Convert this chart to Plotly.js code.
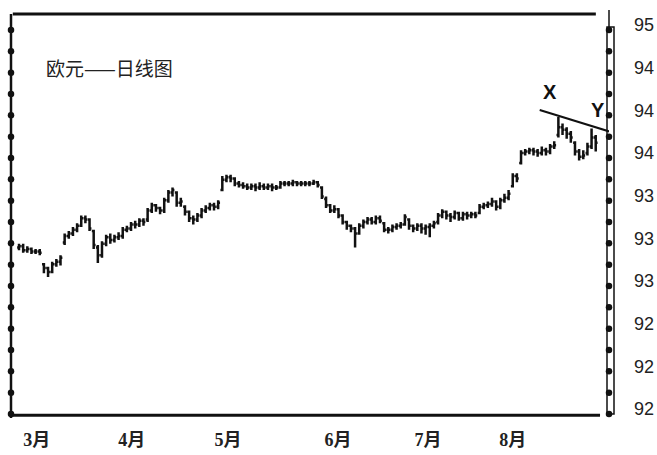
<!DOCTYPE html>
<html>
<head>
<meta charset="utf-8">
<script src="https://cdn.plot.ly/plotly-3.0.1.min.js"></script>
<style>html,body{margin:0;padding:0;background:#fff;}#chart{width:657px;height:455px;}</style>
</head>
<body>
<div id="chart"></div>
<script>
// ---- data (daily bars, index = trading day) ----
const open = [93.30,93.31,93.28,93.29,93.27,93.27,93.17,93.14,93.11,93.17,
93.19,93.34,93.39,93.41,93.44,93.47,93.53,93.52,93.43,93.30,
93.24,93.33,93.38,93.36,93.38,93.39,93.44,93.45,93.48,93.48,
93.51,93.52,93.59,93.63,93.61,93.59,93.67,93.73,93.73,93.65,
93.62,93.58,93.53,93.52,93.55,93.59,93.61,93.63,93.62,93.75,
93.83,93.85,93.84,93.80,93.79,93.78,93.77,93.78,93.77,93.78,
93.77,93.78,93.77,93.77,93.80,93.80,93.80,93.81,93.80,93.80,
93.80,93.80,93.81,93.77,93.68,93.63,93.59,93.60,93.55,93.50,
93.47,93.45,93.41,93.47,93.50,93.52,93.50,93.53,93.49,93.44,
93.44,93.46,93.47,93.48,93.52,93.47,93.45,93.47,93.45,93.46,
93.47,93.50,93.55,93.58,93.55,93.54,93.57,93.53,93.56,93.55,
93.56,93.57,93.62,93.63,93.64,93.66,93.62,93.67,93.69,93.78,
93.86,93.96,94.04,94.05,94.06,94.05,94.04,94.06,94.05,94.09,
94.18,94.24,94.22,94.19,94.12,94.05,94.01,94.04,94.09,94.16];
const high = [93.33,93.33,93.31,93.30,93.29,93.29,93.18,93.15,93.19,93.21,
93.24,93.41,93.43,93.46,93.49,93.55,93.55,93.53,93.44,93.32,
93.35,93.40,93.41,93.40,93.42,93.46,93.47,93.50,93.51,93.53,
93.53,93.61,93.65,93.64,93.62,93.69,93.75,93.77,93.74,93.69,
93.63,93.59,93.55,93.57,93.61,93.63,93.65,93.65,93.67,93.86,
93.87,93.87,93.85,93.82,93.81,93.80,93.80,93.80,93.81,93.80,
93.80,93.80,93.79,93.82,93.82,93.82,93.83,93.82,93.82,93.82,
93.82,93.83,93.82,93.78,93.70,93.64,93.63,93.61,93.56,93.51,
93.48,93.46,93.49,93.52,93.54,93.54,93.55,93.55,93.50,93.46,
93.48,93.49,93.50,93.56,93.53,93.48,93.49,93.49,93.48,93.49,
93.51,93.57,93.60,93.59,93.57,93.59,93.58,93.58,93.58,93.58,
93.58,93.64,93.65,93.66,93.69,93.67,93.69,93.72,93.75,93.88,
93.88,94.06,94.07,94.08,94.08,94.07,94.09,94.08,94.11,94.13,
94.32,94.27,94.24,94.21,94.13,94.07,94.06,94.12,94.23,94.18];
const low = [93.28,93.26,93.26,93.25,93.25,93.24,93.10,93.07,93.10,93.15,
93.16,93.32,93.37,93.39,93.42,93.46,93.49,93.43,93.29,93.18,
93.22,93.31,93.33,93.34,93.36,93.37,93.42,93.43,93.45,93.46,
93.47,93.50,93.57,93.58,93.56,93.57,93.65,93.70,93.62,93.62,
93.55,93.50,93.48,93.50,93.53,93.57,93.59,93.59,93.60,93.74,
93.81,93.81,93.78,93.77,93.76,93.75,93.75,93.74,93.75,93.75,
93.75,93.74,93.75,93.76,93.78,93.78,93.78,93.78,93.78,93.78,
93.78,93.79,93.77,93.68,93.61,93.57,93.57,93.53,93.48,93.44,
93.42,93.30,93.40,93.45,93.48,93.48,93.48,93.49,93.42,93.41,
93.42,93.44,93.45,93.47,93.44,93.42,93.43,93.41,93.40,93.38,
93.45,93.48,93.53,93.52,93.50,93.52,93.51,93.51,93.52,93.53,
93.53,93.56,93.60,93.61,93.62,93.59,93.60,93.65,93.67,93.77,
93.81,93.95,94.02,94.03,94.02,94.01,94.02,94.02,94.03,94.07,
94.16,94.18,94.15,94.12,94.02,93.98,93.99,94.02,94.07,94.05];
const close = [93.31,93.28,93.29,93.27,93.27,93.26,93.14,93.11,93.17,93.19,
93.22,93.39,93.41,93.44,93.47,93.53,93.52,93.45,93.32,93.24,
93.33,93.38,93.36,93.38,93.39,93.44,93.45,93.48,93.48,93.51,
93.50,93.59,93.63,93.61,93.59,93.67,93.73,93.75,93.65,93.66,
93.58,93.53,93.52,93.55,93.59,93.61,93.63,93.62,93.65,93.83,
93.85,93.84,93.80,93.79,93.78,93.77,93.78,93.77,93.78,93.77,
93.78,93.77,93.77,93.80,93.80,93.80,93.81,93.80,93.80,93.80,
93.80,93.81,93.79,93.70,93.63,93.59,93.60,93.55,93.50,93.47,
93.45,93.41,93.47,93.50,93.52,93.50,93.53,93.51,93.44,93.44,
93.46,93.47,93.48,93.54,93.47,93.45,93.47,93.45,93.46,93.47,
93.49,93.55,93.58,93.55,93.54,93.57,93.53,93.56,93.55,93.56,
93.55,93.62,93.63,93.64,93.66,93.62,93.67,93.69,93.72,93.86,
93.84,94.04,94.05,94.06,94.05,94.04,94.06,94.05,94.09,94.10,
94.24,94.22,94.19,94.16,94.05,94.01,94.02,94.09,94.16,94.12];

const months = ['3月','4月','5月','6月','7月','8月'];
const monthIdx = [4.3, 27.2, 50.4, 76.9, 98.6, 119];
const yTickVals = [92, 92.3333, 92.6667, 93, 93.3333, 93.6667, 94, 94.3333, 94.6667, 95];
const yTickText = ['92','92','92','93','93','93','94','94','94','95'];
const pointLabels = ['X','Y'];
const pointIdx = [130, 138];
const trendIdx = [125.5, 143];
const trendPrice = [94.375, 94.20];
const titleText = '欧元——日线图';

// ---- build ----
const idx = close.map((_, i) => i);
const INK = '#111';

const bars = {
  type: 'ohlc', x: idx, open: open, high: high, low: low, close: close,
  increasing: {line: {color: INK, width: 2.5}},
  decreasing: {line: {color: INK, width: 2.5}},
  tickwidth: 0.45, hoverinfo: 'skip', showlegend: false
};

// axis dots: one at each label tick and midway between
const dotY = [];
for (let k = 0; k < yTickVals.length; k++) {
  dotY.push(yTickVals[k]);
  if (k < yTickVals.length - 1) dotY.push((yTickVals[k] + yTickVals[k+1]) / 2);
}
const dots = {
  type: 'scatter', mode: 'markers', xaxis: 'x2', yaxis: 'y',
  x: dotY.map(() => 0).concat(dotY.map(() => 1)),
  y: dotY.concat(dotY),
  marker: {color: INK, size: 6.5, symbol: 'circle'},
  cliponaxis: false, hoverinfo: 'skip', showlegend: false
};

const trend = {
  type: 'scatter', mode: 'lines', x: trendIdx, y: trendPrice,
  line: {color: INK, width: 2}, hoverinfo: 'skip', showlegend: false
};

const annotations = [{
  xref: 'paper', yref: 'paper', x: 0.055, y: 0.867, xanchor: 'left', yanchor: 'middle',
  text: titleText, showarrow: false,
  font: {family: 'Noto Sans CJK SC, sans-serif', size: 19, color: '#222'}
}];
pointLabels.forEach((t, j) => {
  const i = pointIdx[j];
  annotations.push({
    x: i, y: high[i], xref: 'x', yref: 'y', text: '<b>' + t + '</b>', showarrow: false,
    xshift: j === 0 ? -8 : 6, yshift: j === 0 ? 25 : 19,
    font: {family: 'Liberation Sans, Arial, sans-serif', size: 20, color: INK}
  });
});

const layout = {
  width: 657, height: 455,
  margin: {l: 11, r: 48, t: 14, b: 41, pad: 0},
  paper_bgcolor: '#fff', plot_bgcolor: '#fff',
  showlegend: false,
  xaxis: {
    range: [-1.93, 142.2], tickmode: 'array', tickvals: monthIdx, ticktext: months,
    showgrid: false, zeroline: false, showline: false, ticks: '',
    ticklabelstandoff: 13, rangeslider: {visible: false},
    tickfont: {family: 'Liberation Serif, Noto Sans CJK SC, serif', size: 18, color: '#222', weight: 'bold'}
  },
  xaxis2: {overlaying: 'x', range: [0, 1], visible: false},
  yaxis: {
    range: [92, 95.125], side: 'right', tickmode: 'array', tickvals: yTickVals, ticktext: yTickText,
    showgrid: false, zeroline: false, showline: false, ticks: '',
    ticklabelstandoff: 24, ticklabelshift: -5,
    tickfont: {family: 'Liberation Sans, Arial, sans-serif', size: 18, color: '#222'}
  },
  shapes: [
    {type: 'line', xref: 'paper', yref: 'paper', x0: 0, x1: 0, y0: -0.01, y1: 1.0, line: {color: INK, width: 2.5}},
    {type: 'line', xref: 'paper', yref: 'paper', x0: 0.003, x1: 0.978, y0: 1, y1: 1, line: {color: INK, width: 3}},
    {type: 'line', xref: 'paper', yref: 'paper', x0: 0.003, x1: 0.985, y0: -0.003, y1: -0.003, line: {color: INK, width: 3}},
    {type: 'rect', xref: 'paper', yref: 'paper', xsizemode: 'pixel', xanchor: 1, x0: -2, x1: 5, y0: 0, y1: 0.9675, line: {color: INK, width: 1.5}},
    {type: 'line', xref: 'paper', yref: 'paper', xsizemode: 'pixel', xanchor: 1, x0: 0, x1: 0, y0: 0.9675, y1: 1.01, line: {color: INK, width: 1.5}}
  ],
  annotations: annotations
};

Plotly.newPlot('chart', [bars, trend, dots], layout, {displayModeBar: false, staticPlot: true});
</script>
</body>
</html>
